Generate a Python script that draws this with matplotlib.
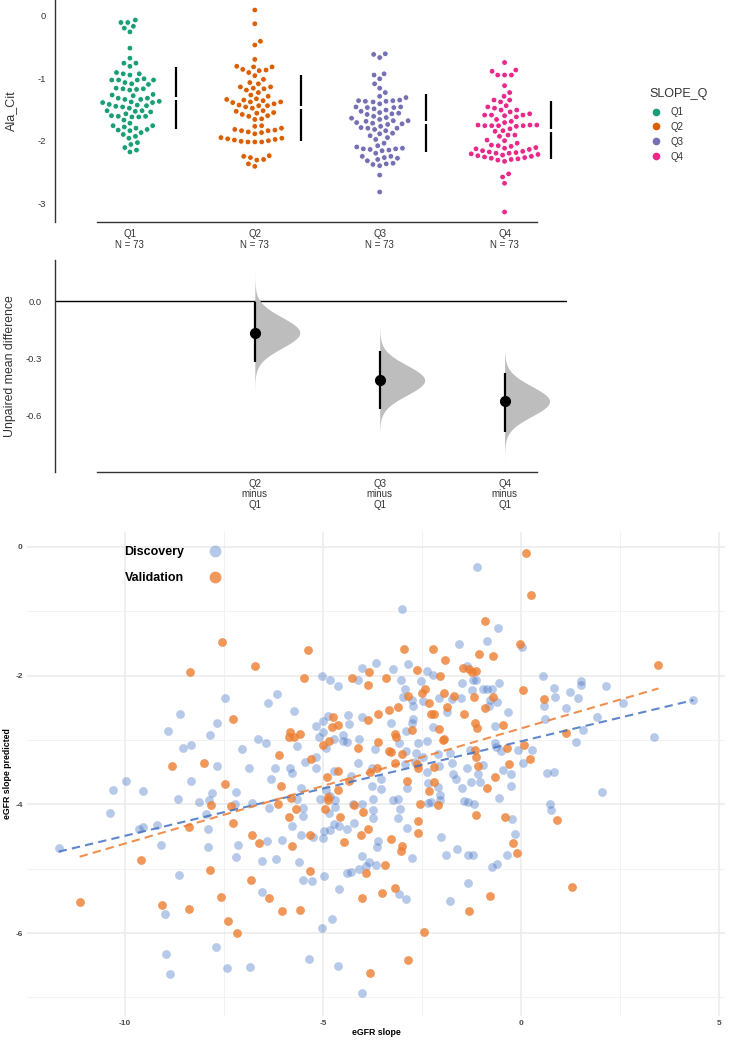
import numpy as np
import pandas as pd
import matplotlib
matplotlib.use("Agg")
import seaborn as sns
from matplotlib import pyplot as plt
from matplotlib.lines import Line2D

plt.rcParams["font.family"] = ["Liberation Sans", "DejaVu Sans"]
plt.rcParams["axes.unicode_minus"] = False

# ---- top panel: Ala_Cit by SLOPE_Q quartile ----
groups = ["Q1", "Q2", "Q3", "Q4"]
group_n = [73, 73, 73, 73]
palette = ["#1b9e77", "#d95f02", "#7570b3", "#e7298a"]

q1_vals = [-0.07, -0.11, -0.11, -0.17, -0.20, -0.26, -0.52, -0.68, -0.76, -0.76,
           -0.81, -0.91, -0.93, -0.93, -0.95, -1.01, -1.03, -1.03, -1.03, -1.03,
           -1.07, -1.09, -1.10, -1.16, -1.17, -1.17, -1.18, -1.19, -1.26, -1.27,
           -1.28, -1.32, -1.32, -1.34, -1.34, -1.37, -1.38, -1.39, -1.39, -1.42,
           -1.43, -1.44, -1.45, -1.46, -1.48, -1.52, -1.52, -1.53, -1.54, -1.57,
           -1.60, -1.61, -1.61, -1.62, -1.62, -1.67, -1.72, -1.76, -1.76, -1.78,
           -1.80, -1.82, -1.83, -1.84, -1.87, -1.90, -1.93, -1.96, -2.03, -2.06,
           -2.11, -2.15, -2.18]
q2_vals = [0.09, -0.13, -0.41, -0.47, -0.70, -0.81, -0.82, -0.82, -0.87, -0.88,
           -0.86, -0.91, -0.96, -1.02, -1.07, -1.09, -1.14, -1.14, -1.16, -1.17,
           -1.19, -1.23, -1.27, -1.29, -1.33, -1.34, -1.35, -1.36, -1.38, -1.38,
           -1.39, -1.41, -1.43, -1.44, -1.44, -1.46, -1.48, -1.52, -1.53, -1.55,
           -1.56, -1.58, -1.60, -1.61, -1.65, -1.66, -1.76, -1.77, -1.80, -1.82,
           -1.83, -1.84, -1.84, -1.86, -1.87, -1.89, -1.95, -1.96, -1.97, -1.98,
           -1.99, -2.00, -2.02, -2.01, -2.02, -2.02, -2.24, -2.25, -2.27, -2.30,
           -2.31, -2.37, -2.41]
q3_vals = [-0.62, -0.61, -0.67, -0.93, -0.95, -1.01, -1.09, -1.16, -1.23, -1.29,
           -1.31, -1.35, -1.36, -1.36, -1.37, -1.37, -1.38, -1.41, -1.46, -1.46,
           -1.47, -1.47, -1.49, -1.51, -1.53, -1.55, -1.56, -1.57, -1.58, -1.61,
           -1.63, -1.64, -1.66, -1.68, -1.68, -1.69, -1.71, -1.72, -1.73, -1.74,
           -1.77, -1.79, -1.80, -1.80, -1.82, -1.84, -1.88, -1.89, -1.92, -1.95,
           -1.98, -2.04, -2.08, -2.10, -2.12, -2.13, -2.13, -2.14, -2.15, -2.16,
           -2.20, -2.25, -2.25, -2.27, -2.28, -2.30, -2.32, -2.36, -2.37, -2.38,
           -2.40, -2.55, -2.82]
q4_vals = [-0.75, -0.87, -0.89, -0.95, -0.95, -0.95, -1.12, -1.23, -1.29, -1.35,
           -1.35, -1.38, -1.44, -1.46, -1.48, -1.51, -1.51, -1.54, -1.57, -1.59,
           -1.59, -1.59, -1.60, -1.62, -1.66, -1.69, -1.71, -1.75, -1.75, -1.76,
           -1.75, -1.76, -1.76, -1.76, -1.77, -1.81, -1.84, -1.85, -1.91, -1.91,
           -1.93, -1.99, -2.00, -2.04, -2.07, -2.08, -2.09, -2.11, -2.12, -2.13,
           -2.14, -2.16, -2.17, -2.18, -2.19, -2.20, -2.20, -2.21, -2.22, -2.23,
           -2.24, -2.25, -2.26, -2.27, -2.28, -2.29, -2.30, -2.31, -2.33, -2.53,
           -2.58, -2.68, -3.14]

group_mean = [-1.32, -1.475, -1.715, -1.83]
group_sd = [0.50, 0.525, 0.46, 0.465]

# ---- middle panel: mean difference vs Q1 ----
contrast_labels = ["Q2\nminus\nQ1", "Q3\nminus\nQ1", "Q4\nminus\nQ1"]
diff_mean = [-0.165, -0.415, -0.526]
diff_ci_lo = [-0.318, -0.568, -0.687]
diff_ci_hi = [-0.002, -0.260, -0.378]
boot_min = [-0.505, -0.695, -0.848]
boot_max = [0.175, -0.130, -0.260]

# ---- bottom panel: observed vs predicted eGFR slope ----
disc_x = [-8.60, -8.91, -8.54, -8.34, -9.98, -10.30, -9.54, -8.34, -5.02, -4.82,
          -4.62, -4.11, -4.02, -3.66, -7.47, -6.17, -6.38, -5.73, -7.67, -7.84,
          -6.65, -6.44, -7.04, -5.66, -5.18, -5.01, -4.86, -4.36, -4.34, -4.02,
          -5.10, -4.99, -4.91, -4.72, -4.49, -4.50, -4.39, -4.08, -3.68, -5.45,
          -5.18, -5.18, -6.21, -5.83, -5.78, -6.86, -7.68, -4.72, -4.11, -3.76,
          -4.28, -6.32, -7.19, -7.79, -5.56, -5.66, -4.91, -4.82, -4.70, -5.08,
          -3.76, -3.74, -8.12, -7.88, -7.22, -6.79, -6.36, -5.50, -4.23, -4.01,
          -4.70, -3.00, -0.57, -0.87, -1.57, 0.02, -2.86, -3.24, -2.36, -2.23,
          -1.37, -1.20, -1.14, -1.50, -3.03, -2.53, 0.55, 0.83, 0.86, 0.59,
          0.61, -2.93, -2.97, -2.76, -2.73, -2.47, -2.06, -1.75, -1.52, -1.24,
          -0.97, -0.87, -0.74, -0.55, -0.78, -0.61, -0.81, -0.32, -1.86, -2.72,
          -3.29, -2.76, -2.22, -2.91, -0.66, -2.36, -2.59, -3.08, -2.90, -2.65,
          -2.47, -2.09, -1.78, -1.29, -0.66, -0.63, -0.51, -0.07, 0.27, 0.06,
          -0.45, -0.24, -0.25, 0.65, 0.83, 0.73, 0.76, -2.93, -2.68, -2.36,
          -2.06, -1.75, -1.71, -1.64, -1.36, -0.95, -1.08, -1.04, -1.27, -1.48,
          -2.87, -2.34, -2.09, -2.05, -2.05, -2.27, -2.34, -3.22, -3.11, -3.06,
          -3.54, -3.54, -1.43, -1.33, -1.19, -0.56, 1.24, 1.52, 1.51, 1.44,
          1.14, 2.15, 2.57, 4.35, 1.92, 1.57, 1.39, 3.37, -1.10, -8.67,
          -10.38, -9.65, -9.54, -9.18, -11.67, -9.08, -8.63, -8.98, -8.96, -8.86,
          -7.95, -7.90, -7.89, -7.71, -7.41, -6.83, -7.14, -7.20, -6.40, -6.55,
          -6.19, -6.03, -6.54, -5.35, -5.77, -5.50, -5.56, -5.24, -5.60, -5.50,
          -5.28, -5.01, -4.98, -4.81, -4.71, -4.60, -4.84, -4.38, -4.21, -4.97,
          -4.59, -5.02, -4.77, -4.63, -3.74, -3.74, -3.60, -3.63, -4.01, -3.83,
          -3.67, -4.09, -3.91, -4.38, -4.30, -4.01, -2.74, -2.89, -3.10, -3.08,
          -2.91, -2.02, -1.89, -1.62, -1.33, -1.21, -1.35, -1.78, -0.23, -0.14,
          -0.36, -0.61, -0.73, 2.05]
disc_y = [-2.59, -2.86, -3.13, -3.08, -3.64, -3.77, -3.79, -3.63, -2.01, -2.07,
          -2.16, -2.06, -1.88, -1.80, -2.34, -2.28, -2.42, -2.55, -2.73, -2.93,
          -2.99, -3.04, -3.14, -3.09, -2.79, -2.70, -2.62, -2.61, -2.75, -2.64,
          -2.95, -2.87, -3.12, -2.98, -2.92, -3.02, -3.03, -2.99, -3.14, -3.34,
          -3.27, -3.44, -3.43, -3.43, -3.52, -3.44, -3.40, -3.48, -3.35, -3.43,
          -3.56, -3.61, -3.81, -3.83, -3.75, -3.91, -3.78, -3.87, -3.93, -3.92,
          -3.72, -3.92, -3.96, -3.93, -3.99, -3.98, -4.05, -4.06, -3.99, -3.99,
          -4.04, -0.96, -1.26, -1.46, -1.51, -1.56, -1.82, -1.89, -1.92, -1.99,
          -1.85, -2.07, -2.07, -2.11, -2.07, -2.09, -2.00, -2.19, -2.33, -2.47,
          -2.67, -2.21, -2.33, -2.38, -2.47, -2.40, -2.34, -2.37, -2.34, -2.23,
          -2.21, -2.21, -2.20, -2.12, -2.38, -2.41, -2.47, -2.56, -2.57, -2.67,
          -2.73, -2.74, -2.80, -2.86, -2.78, -3.02, -3.04, -3.05, -3.17, -3.20,
          -3.26, -3.22, -3.20, -3.16, -3.04, -3.11, -3.17, -3.16, -3.16, -3.35,
          -3.46, -3.53, -3.71, -3.51, -3.50, -3.99, -4.09, -3.38, -3.34, -3.50,
          -3.40, -3.35, -3.53, -3.61, -3.43, -3.39, -3.53, -3.65, -3.65, -3.74,
          -3.75, -3.67, -3.73, -3.86, -3.93, -3.96, -3.98, -3.93, -3.92, -4.08,
          -3.61, -3.76, -3.95, -3.97, -3.99, -3.90, -2.26, -2.08, -2.15, -2.34,
          -2.51, -2.16, -2.42, -2.38, -2.65, -2.84, -3.03, -2.96, -0.31, -3.91,
          -4.13, -4.39, -4.36, -4.32, -4.68, -4.63, -5.10, -5.70, -6.33, -6.63,
          -4.15, -4.39, -4.67, -6.22, -6.55, -6.53, -4.63, -4.82, -4.57, -4.88,
          -4.85, -4.55, -5.36, -6.40, -4.33, -4.18, -4.48, -4.51, -4.90, -5.17,
          -5.19, -4.52, -4.42, -4.40, -4.30, -4.34, -4.14, -4.39, -4.29, -5.11,
          -5.32, -5.92, -5.79, -6.51, -4.09, -4.22, -4.57, -4.67, -4.81, -4.89,
          -4.95, -5.01, -4.96, -5.07, -5.05, -6.94, -4.84, -4.37, -4.22, -5.39,
          -5.47, -4.51, -4.79, -4.69, -4.79, -4.79, -5.23, -5.50, -4.23, -4.46,
          -4.79, -4.93, -4.98, -3.81]
val_x = [-8.36, -8.81, -7.54, -5.37, -6.72, -5.47, -4.27, -3.84, -3.87, -7.27,
         -5.83, -5.85, -5.73, -5.58, -4.74, -4.76, -4.63, -3.85, -3.62, -4.99,
         -4.84, -4.11, -3.60, -6.12, -5.31, -8.01, -4.89, -4.63, -3.81, -3.64,
         -4.35, -7.48, -6.07, -5.81, -4.88, -4.87, -4.63, -7.83, -7.32, -6.13,
         -5.68, -4.21, -4.95, -0.91, -0.03, -2.95, -2.21, -1.06, -0.71, -1.92,
         -2.63, -2.05, -1.46, -1.31, -1.14, -1.24, -3.42, 0.06, 0.58, -2.42,
         -2.51, -2.86, -2.32, -1.94, -1.69, -1.18, -0.70, -0.91, -1.86, -1.43,
         -2.26, -2.20, -3.10, -3.34, -2.06, -2.76, -1.16, -1.12, -0.45, -3.18,
         -3.16, -1.98, -1.94, -3.33, -3.27, -3.00, -1.16, -1.14, -0.36, 0.08,
         0.23, -0.30, -0.66, -3.18, -2.59, -2.63, -2.20, -1.09, -0.85, -2.87,
         -2.19, -2.32, -2.10, -2.55, 3.47, 1.14, 0.13, 0.26, -8.39, -9.60,
         -11.14, -9.06, -8.39, -7.27, -7.85, -7.58, -7.39, -7.17, -6.80, -6.61,
         -6.82, -6.36, -6.03, -5.57, -5.85, -5.79, -5.33, -5.33, -4.57, -4.47,
         -3.99, -4.05, -3.85, -3.91, -4.02, -3.51, -3.81, -3.43, -3.27, -3.00,
         -3.02, -2.61, -2.61, -3.17, -2.46, -2.86, -1.32, -1.14, -0.41, -0.20,
         -0.09, -0.77, 0.90, 1.29]
val_y = [-1.95, -3.41, -1.48, -1.60, -1.85, -2.03, -2.03, -1.94, -2.15, -2.67,
         -2.88, -2.96, -2.95, -2.91, -2.65, -2.80, -2.77, -2.69, -2.60, -3.07,
         -3.02, -3.13, -3.03, -3.24, -3.30, -3.36, -3.58, -3.48, -3.50, -3.44,
         -3.63, -3.68, -3.72, -3.90, -3.88, -3.93, -3.77, -4.01, -4.03, -3.99,
         -4.07, -4.01, -4.08, -1.15, -1.51, -1.59, -1.59, -1.66, -1.69, -1.76,
         -1.91, -2.01, -1.88, -1.89, -1.93, -1.95, -2.03, -2.22, -2.36, -2.20,
         -2.27, -2.31, -2.42, -2.27, -2.32, -2.33, -2.33, -2.51, -2.48, -2.59,
         -2.59, -2.59, -2.49, -2.53, -2.83, -2.85, -2.73, -2.82, -2.77, -2.91,
         -2.96, -3.00, -2.98, -3.17, -3.19, -3.21, -3.16, -3.26, -3.13, -3.08,
         -3.30, -3.37, -3.58, -3.36, -3.44, -3.38, -3.42, -3.40, -3.74, -3.63,
         -3.66, -3.79, -4.01, -4.00, -1.84, -2.89, -0.09, -0.74, -4.36, -4.86,
         -5.52, -5.56, -5.63, -4.29, -5.02, -5.44, -5.82, -6.00, -4.48, -4.60,
         -5.17, -5.45, -5.66, -5.65, -4.19, -4.65, -4.47, -5.03, -4.20, -4.59,
         -4.12, -4.48, -4.39, -5.07, -5.45, -5.38, -6.62, -4.95, -4.54, -4.65,
         -4.73, -4.26, -4.44, -5.30, -5.98, -6.42, -5.66, -4.17, -4.19, -4.60,
         -4.75, -5.43, -4.25, -5.28]

# linear fits: slope, intercept
disc_fit = [0.147, -3.02]
val_fit = [0.179, -2.82]

text_col = "#333333"

fig = plt.figure(figsize=(7.32, 10.43), dpi=100)

# ================= top: swarm =================
ax1 = fig.add_axes([55 / 732, 1 - 222 / 1043, 512 / 732, 222 / 1043])
df = pd.DataFrame({
    "SLOPE_Q": np.repeat(groups, group_n),
    "Ala_Cit": q1_vals + q2_vals + q3_vals + q4_vals,
})
# white edge keeps the swarm spacing a bit wider than the visible dot
sns.swarmplot(data=df, x="SLOPE_Q", y="Ala_Cit", hue="SLOPE_Q", order=groups,
              hue_order=groups, palette=palette, size=4.1, linewidth=0.6,
              edgecolor="white", ax=ax1, legend=False, zorder=3)

gap = 0.025
for i, (m, sd) in enumerate(zip(group_mean, group_sd)):
    xp = i + 0.37
    ax1.vlines(xp, m - sd, m - gap, color="black", lw=1.6, zorder=4)
    ax1.vlines(xp, m + gap, m + sd, color="black", lw=1.6, zorder=4)

ax1.set_xlim(-0.6, 3.5)
ax1.set_ylim(-3.3, 0.25)
ax1.set_xticks(range(4))
ax1.set_xticklabels([f"{g}\nN = {n}" for g, n in zip(groups, group_n)],
                    linespacing=1.1)
ax1.set_yticks([0, -1, -2, -3])
ax1.tick_params(axis="x", length=0, labelsize=7, colors=text_col, pad=5)
ax1.tick_params(axis="y", length=0, labelsize=6.8, colors=text_col, pad=6.5)
ax1.set_xlabel("")
ax1.set_ylabel("Ala_Cit", fontsize=9, color=text_col)
ax1.yaxis.set_label_coords(-0.074, 0.5)
for s in ["top", "right"]:
    ax1.spines[s].set_visible(False)
for s in ["left", "bottom"]:
    ax1.spines[s].set_color(text_col)
    ax1.spines[s].set_linewidth(1.0)
ax1.spines["bottom"].set_bounds(-0.26, 3.26)

handles = [Line2D([], [], ls="", marker="o", color=c, markersize=4.5) for c in palette]
leg = ax1.legend(handles, groups, title="SLOPE_Q", loc="upper left",
                 bbox_to_anchor=(649 / 732, 1 - 88 / 1043),
                 bbox_transform=fig.transFigure, frameon=False, fontsize=7,
                 title_fontsize=9, handlelength=1.45, handletextpad=0.72,
                 labelspacing=0.5, borderpad=0, borderaxespad=0)
leg._legend_box.align = "left"
leg._legend_box.sep = 5.0
for t in leg.get_texts():
    t.set_color(text_col)
leg.get_title().set_color(text_col)

# ================= middle: mean differences =================
ax2 = fig.add_axes([55 / 732, 1 - 472 / 1043, 512 / 732, 212 / 1043])
ax2.axhline(0, color="black", lw=1.0, zorder=1)
for k in range(3):
    xp = k + 1
    m = diff_mean[k]
    sd = (diff_ci_hi[k] - diff_ci_lo[k]) / 3.92
    yy = np.linspace(boot_min[k], boot_max[k], 300)
    dens = np.exp(-0.5 * ((yy - m) / sd) ** 2)
    ax2.fill_betweenx(yy, xp, xp + 0.36 * dens / dens.max(), color="#bdbdbd",
                      lw=0, zorder=2)
    ax2.vlines(xp, diff_ci_lo[k], diff_ci_hi[k], color="black", lw=1.6, zorder=3)
    ax2.plot(xp, m, "o", color="black", ms=7, zorder=4)

ax2.set_xlim(-0.6, 3.5)
ax2.set_ylim(-0.898, 0.217)
ax2.set_xticks([1, 2, 3])
ax2.set_xticklabels(contrast_labels, linespacing=1.05)
ax2.set_yticks([0.0, -0.3, -0.6])
ax2.set_yticklabels(["0.0", "-0.3", "-0.6"])
ax2.tick_params(axis="x", length=0, labelsize=7, colors=text_col, pad=5)
ax2.tick_params(axis="y", length=0, labelsize=6.8, colors=text_col, pad=9.5)
ax2.set_ylabel("Unpaired mean difference", fontsize=8.8, color=text_col)
ax2.yaxis.set_label_coords(-0.076, 0.5)
for s in ["top", "right"]:
    ax2.spines[s].set_visible(False)
for s in ["left", "bottom"]:
    ax2.spines[s].set_color(text_col)
    ax2.spines[s].set_linewidth(1.0)
ax2.spines["bottom"].set_bounds(-0.26, 3.26)

# ================= bottom: scatter =================
ax3 = fig.add_axes([27 / 732, 1 - 1016 / 1043, 698 / 732, 484 / 1043])
ax3.set_xlim(-12.47, 5.15)
ax3.set_ylim(-7.29, 0.233)
ax3.set_xticks([-10, -5, 0, 5])
ax3.set_xticks([-7.5, -2.5, 2.5], minor=True)
ax3.set_yticks([0, -2, -4, -6])
ax3.set_yticks([-1, -3, -5, -7], minor=True)
ax3.grid(which="major", color="#ebebeb", lw=1.1)
ax3.grid(which="minor", color="#f2f2f2", lw=0.7)
ax3.set_axisbelow(True)
for s in ax3.spines.values():
    s.set_visible(False)
ax3.tick_params(which="both", length=0)
ax3.tick_params(axis="both", labelsize=6, labelcolor="#4d4d4d", pad=3)
for lab in ax3.get_xticklabels() + ax3.get_yticklabels():
    lab.set_fontweight("bold")

blue = "#4472c4"
orange = "#ed7d31"
ax3.scatter(disc_x, disc_y, s=40, color=blue, alpha=0.38, lw=0, zorder=2)
ax3.scatter(val_x, val_y, s=40, color=orange, alpha=0.8, lw=0, zorder=3)

xd = np.array([min(disc_x), max(disc_x)])
ax3.plot(xd, disc_fit[1] + disc_fit[0] * xd, ls=(0, (4, 2.5)), color=blue,
         lw=1.5, alpha=0.85, zorder=4)
xv = np.array([min(val_x), max(val_x)])
ax3.plot(xv, val_fit[1] + val_fit[0] * xv, ls=(0, (4, 2.5)), color=orange,
         lw=1.5, alpha=0.85, zorder=4)

ax3.set_xlabel("eGFR slope", fontsize=6.3, fontweight="bold")
ax3.xaxis.set_label_coords(0.5, -0.024)
ax3.xaxis.label.set_va("top")
ax3.set_ylabel("eGFR slope predicted", fontsize=6.3, fontweight="bold")
ax3.yaxis.set_label_coords(-0.021, 0.5)

h2 = [Line2D([], [], ls="", marker="o", color=blue, alpha=0.38, markersize=8.5, mew=0),
      Line2D([], [], ls="", marker="o", color=orange, alpha=0.8, markersize=8.5, mew=0)]
leg2 = ax3.legend(h2, ["Discovery", "Validation"], loc="upper left",
                  bbox_to_anchor=(124 / 732, 1 - 546 / 1043),
                  bbox_transform=fig.transFigure, frameon=False, markerfirst=False,
                  prop={"weight": "bold", "size": 9}, handlelength=2.0,
                  handletextpad=1.45, labelspacing=1.15, borderpad=0,
                  borderaxespad=0)

fig.savefig("out.png", dpi=100)
